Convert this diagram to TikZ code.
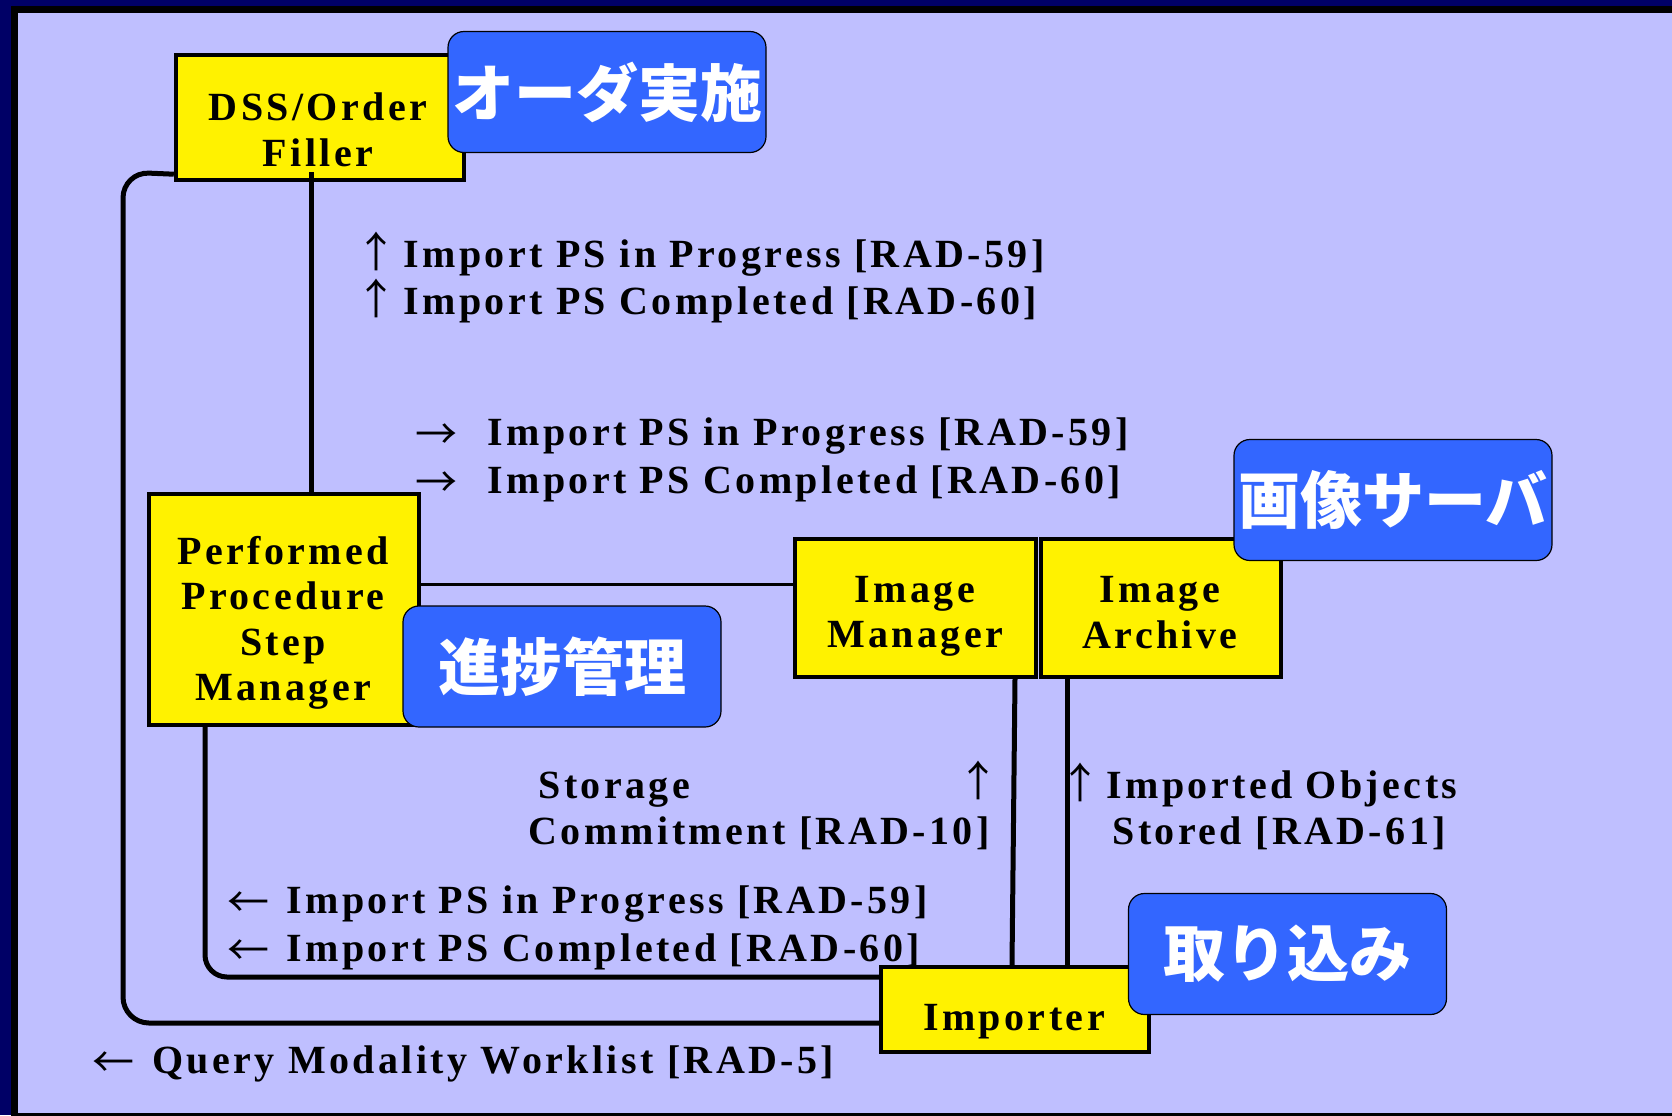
\documentclass[tikz,border=0pt]{standalone}
\usepackage{fontspec}
\setmainfont{Liberation Serif}
\newfontfamily\lblfont[LetterSpace=8.5]{Liberation Serif}
\newfontfamily\jpfont{Noto Sans CJK JP}
\definecolor{navy}{RGB}{0,0,102}
\definecolor{lavender}{RGB}{191,191,255}
\definecolor{tagblue}{RGB}{51,102,255}
\newcommand{\msgsize}{\fontsize{20pt}{22.75pt}\selectfont}
\newcommand{\arrsize}{\fontsize{21pt}{21pt}\selectfont}
\newcommand{\arrbox}[2]{\makebox[#1][l]{\jpfont\mdseries\arrsize #2}}
\newcommand{\harr}[1]{\raisebox{-2pt}{#1}}
\tikzstyle{actor}=[draw, fill=yellow, line width=2.2pt, inner sep=0]
\tikzstyle{actortext}=[inner sep=0, align=center, font=\lblfont\bfseries\msgsize]
\tikzstyle{tag}=[draw, fill=tagblue, line width=0.6pt, rounded corners=8pt,
                 minimum width=159pt, minimum height=60.5pt, inner sep=0,
                 text=white, font=\jpfont\bfseries\fontsize{31pt}{31pt}\selectfont]
\tikzstyle{msg}=[anchor=base west, inner sep=0, font=\lblfont\bfseries\msgsize]
\tikzstyle{link}=[line width=2.5pt]

\begin{document}
\begin{tikzpicture}[x=0.5pt, y=-0.5pt]
        \useasboundingbox (0,0) rectangle (1672,1115);
        % Frame.
        \fill[navy] (0,0) rectangle (1672,1115);
        \filldraw[fill=lavender, draw=black, line width=3.5pt] (14,9.5) rectangle (1720,1116);
        % Actors.
        \node[actor, minimum width=144pt, minimum height=62.5pt] (dss) at (320,117.5) {};
        \node[actor, minimum width=135pt, minimum height=115.5pt] (pps) at (284,609.5) {};
        \node[actor, minimum width=120.5pt, minimum height=69pt] (im) at (915.5,608) {};
        \node[actor, minimum width=120pt, minimum height=69pt] (ia) at (1161,608) {};
        \node[actor, minimum width=134pt, minimum height=42.5pt] (imp) at (1015,1009.5) {};
        \node[actortext] (dssT) at (318,130) {DSS/Order\\Filler};
        \node[actortext] (ppsT) at (283,623) {Performed\\Procedure\\Step\\Manager};
        \node[actortext] (imT) at (915,616.5) {Image\\Manager};
        \node[actortext] (iaT) at (1160,612.5) {Image\\Archive};
        \node[actortext] (impT) at (1014,1021.5) {Importer};
        % Connections.
        \draw[link, shorten <=-5pt] (dss.south -| 311,0) -- (pps.north -| 311,0);
        \draw[link, rounded corners=13pt] ([yshift=4pt]dss.south west) -- (123,172) -- (123,1023) -- (imp.west |- 0,1023);
        \draw[link, rounded corners=11pt] (205,0 |- pps.south) -- (205,977) -- (imp.west |- 0,977);
        \draw[line width=1.5pt] (pps.east |- 0,584) -- (im.west |- 0,584);
        \draw[link] (1015,0 |- im.south) -- (1012,0 |- imp.north);
        \draw[link] (1067,0 |- ia.south) -- (1067,0 |- imp.north);
        % Transactions.
        \node[msg] (u1) at (355,267) {\arrbox{24pt}{↑}Import PS in Progress [RAD-59]};
        \node[msg] (u2) at (355,314) {\arrbox{24pt}{↑}Import PS Completed [RAD-60]};
        \node[msg] (r1) at (415,445) {\arrbox{36pt}{\harr{→}}Import PS in Progress [RAD-59]};
        \node[msg] (r2) at (415,493) {\arrbox{36pt}{\harr{→}}Import PS Completed [RAD-60]};
        \node[msg] (s1) at (538,798) {Storage};
        \node[msg] (s2) at (528,844) {Commitment [RAD-10]};
        \node[msg, anchor=base] (sA) at (978,796) {\jpfont\mdseries\arrsize ↑};
        \node[msg] (o1) at (1059,798) {\arrbox{23.5pt}{↑}Imported Objects};
        \node[msg] (o2) at (1112,844) {Stored [RAD-61]};
        \node[msg] (l1) at (227,913) {\arrbox{29.5pt}{\harr{←}}Import PS in Progress [RAD-59]};
        \node[msg] (l2) at (227,961) {\arrbox{29.5pt}{\harr{←}}Import PS Completed [RAD-60]};
        \node[msg] (q) at (92,1073) {\arrbox{30pt}{\harr{←}}Query Modality Worklist [RAD-5]};
        % Japanese tags.
        \node[tag] (tOrder) at (607,92) {\raisebox{-7pt}{オーダ実施}};
        \node[tag] (tProg) at (562,666.5) {\raisebox{-7pt}{進捗管理}};
        \node[tag] (tServer) at (1393,500) {\raisebox{-7pt}{画像サーバ}};
        \node[tag] (tImport) at (1287.5,954) {\raisebox{-7pt}{取り込み}};
    \end{tikzpicture}
\end{document}
